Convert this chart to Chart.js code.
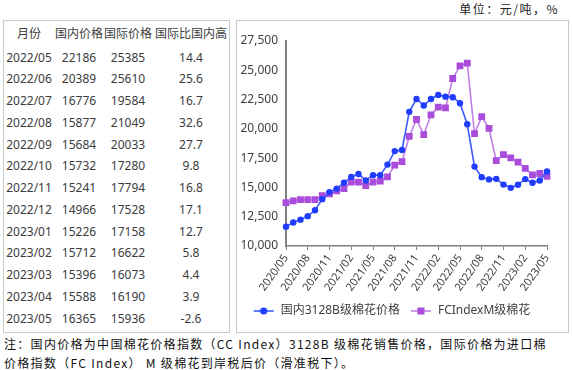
<!DOCTYPE html>
<html><head><meta charset="utf-8">
<script src="https://cdn.jsdelivr.net/npm/chart.js@4.4.1/dist/chart.umd.min.js"></script>
<style>
html,body{margin:0;padding:0;background:#fff;}
body{width:572px;height:370px;position:relative;overflow:hidden;font-family:"Noto Sans","Noto Sans CJK SC",sans-serif;}
#unit{position:absolute;top:1px;right:13px;font-size:12px;font-family:"Noto Sans CJK SC";letter-spacing:1.5px;color:#222;line-height:16px;}
#tbl{position:absolute;left:3px;top:20px;width:225px;height:311px;border:1px solid #c8c8c8;}
.cell{position:absolute;font-size:12px;color:#3c3c3c;text-align:center;line-height:16px;white-space:nowrap;width:80px;}
#box{position:absolute;left:236px;top:20px;width:331px;height:311px;border:1px solid #c8c8c8;}
#cv{position:absolute;left:236px;top:20px;}
#note{position:absolute;left:4px;top:334px;font-size:12px;font-family:"Noto Sans CJK SC";letter-spacing:1.3px;line-height:19px;color:#111;white-space:nowrap;}
</style></head><body>
<div id="unit">单位：元/吨，%</div>
<div id="tbl"></div>
<div id="box"></div>
<canvas id="cv" width="332" height="312"></canvas>
<div id="note">注：国内价格为中国棉花价格指数（CC Index）3128B 级棉花销售价格，国际价格为进口棉<br>价格指数（FC Index） M 级棉花到岸税后价（滑准税下）。</div>
<script>
const months = ['2020/05','2020/06','2020/07','2020/08','2020/09','2020/10','2020/11','2020/12',
  '2021/01','2021/02','2021/03','2021/04','2021/05','2021/06','2021/07','2021/08','2021/09','2021/10','2021/11','2021/12',
  '2022/01','2022/02','2022/03','2022/04','2022/05','2022/06','2022/07','2022/08','2022/09','2022/10','2022/11','2022/12',
  '2023/01','2023/02','2023/03','2023/04','2023/05'];
const domestic = [11650,12000,12250,12550,13050,14000,14600,14900,15400,15900,16150,15600,16050,16050,16950,18100,18200,
  21450,22550,22000,22550,22900,22750,22700,
  22186,20389,16776,15877,15684,15732,15241,14966,15226,15712,15396,15588,16365];
const international = [13700,13850,13950,13950,13950,14300,14450,14700,14900,15450,15450,15150,15450,15550,15900,16900,17200,
  19350,20800,19500,21200,21850,21800,24300,
  25385,25610,19584,21049,20033,17280,17794,17528,17158,16622,16073,16190,15936];
const tableMonths = ['2022/05','2022/06','2022/07','2022/08','2022/09','2022/10','2022/11','2022/12','2023/01','2023/02','2023/03','2023/04','2023/05'];
const tableDomestic = [22186,20389,16776,15877,15684,15732,15241,14966,15226,15712,15396,15588,16365];
const tableIntl = [25385,25610,19584,21049,20033,17280,17794,17528,17158,16622,16073,16190,15936];
const tableRatio = ['14.4','25.6','16.7','32.6','27.7','9.8','16.8','17.1','12.7','5.8','4.4','3.9','-2.6'];
const tableHeaders = ['月份','国内价格','国际价格','国际比国内高'];
const seriesNames = ['国内3128B级棉花价格','FCIndexM级棉花'];

// ---- table ----
const tbl = document.getElementById('tbl');
const colCenters = [25, 75, 124, 187];
function addCell(text, col, cy){
  const d = document.createElement('div');
  d.className = 'cell';
  d.textContent = text;
  d.style.left = (colCenters[col] - 40) + 'px';
  d.style.top = (cy - 8) + 'px';
  tbl.appendChild(d);
}
tableHeaders.forEach((h,i)=>addCell(h,i,12.5));
tableMonths.forEach((m,r)=>{
  const cy = 36.5 + r*21.75;
  addCell(m,0,cy); addCell(String(tableDomestic[r]),1,cy); addCell(String(tableIntl[r]),2,cy); addCell(tableRatio[r],3,cy);
});

// ---- chart ----
Chart.defaults.font.family = "'Noto Sans','Noto Sans CJK SC',sans-serif";
const blue = '#1f3cff', blueLine = '#3b5bff', purple = '#a94cdc', purpleLine = '#c07fe9';
function sym(color, lineColor, shape){
  const c = document.createElement('canvas'); c.width = 22; c.height = 12;
  const g = c.getContext('2d');
  g.strokeStyle = lineColor; g.lineWidth = 1.6;
  g.beginPath(); g.moveTo(1,6); g.lineTo(21,6); g.stroke();
  g.fillStyle = color;
  if (shape === 'circle'){ g.beginPath(); g.arc(11,6,3.6,0,Math.PI*2); g.fill(); }
  else { g.fillRect(7.5,2.5,7,7); }
  return c;
}
const symB = sym(blue, blueLine, 'circle'), symP = sym(purple, purpleLine, 'rect');

new Chart(document.getElementById('cv'), {
  type: 'line',
  data: { labels: months, datasets: [
    { label: seriesNames[0], data: domestic, borderColor: blueLine, backgroundColor: blue,
      pointBackgroundColor: blue, pointBorderColor: blue, pointStyle: 'circle', pointRadius: 3.2,
      pointBorderWidth: 0, borderWidth: 1.6, tension: 0 },
    { label: seriesNames[1], data: international, borderColor: purpleLine, backgroundColor: purple,
      pointBackgroundColor: purple, pointBorderColor: purple, pointStyle: 'rect', pointRadius: 4.8,
      pointBorderWidth: 0, borderWidth: 1.6, tension: 0 }
  ]},
  options: {
    responsive: false, animation: false, devicePixelRatio: 1,
    layout: { padding: { left: 0, right: 21, top: 21, bottom: 5 } },
    plugins: {
      tooltip: { enabled: false },
      legend: { position: 'bottom', labels: {
        usePointStyle: true, pointStyleWidth: 22, padding: 10, color: '#404040', font: { size: 12 },
        generateLabels(chart){
          const items = Chart.defaults.plugins.legend.labels.generateLabels(chart);
          items[0].pointStyle = symB; items[1].pointStyle = symP;
          return items;
        }
      }}
    },
    scales: {
      x: {
        ticks: { autoSkip: false, minRotation: 55, maxRotation: 55, padding: 2, color: '#404040', font: { size: 11 },
          callback(v, i){ return i % 3 === 0 ? months[i] : ''; } },
        grid: { drawOnChartArea: false, drawTicks: true, tickLength: 4,
          color(ctx){ return ctx.index % 3 === 0 ? '#808080' : 'rgba(0,0,0,0)'; } },
        border: { color: '#808080', width: 1.5 },
        afterFit(s){ s.height = 49; }
      },
      y: {
        min: 10000, max: 27500,
        ticks: { stepSize: 2500, padding: 8, color: '#404040', font: { size: 12 },
          callback(v){ return v.toLocaleString('en-US'); } },
        grid: { display: false, drawTicks: false },
        border: { color: '#808080', width: 2 },
        afterFit(s){ s.width = 50; }
      }
    }
  }
});
</script>
</body></html>
